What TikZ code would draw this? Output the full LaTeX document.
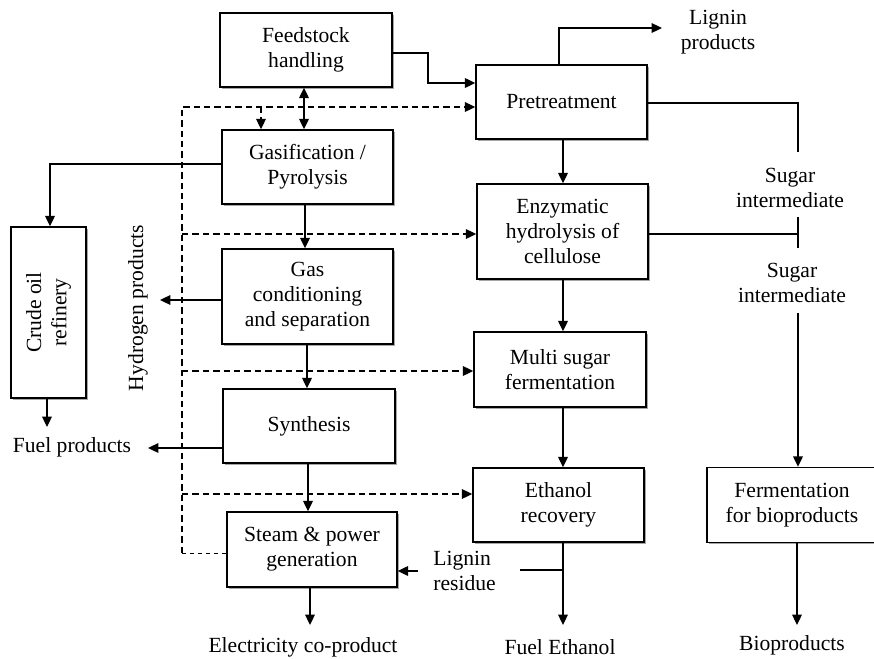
\documentclass[tikz,border=0pt]{standalone}
\usepackage{fontspec}
\setmainfont{Liberation Serif}
\usetikzlibrary{arrows.meta,shadows}
\tikzset{
  box/.style={draw, line width=0.7pt, fill=white, align=center, inner sep=0pt,
    drop shadow={shadow xshift=0.9pt, shadow yshift=-0.9pt, fill=black!35, opacity=1}},
  lbl/.style={align=center, inner sep=0pt},
  arr/.style={-{Triangle[length=5.2pt,width=4.8pt]}, line width=0.8pt},
  plain/.style={line width=0.8pt},
  dsh/.style={line width=0.7pt, dash pattern=on 3.2pt off 2pt},
  dsharr/.style={dsh, -{Triangle[length=5.2pt,width=4.8pt]}},
  dshthin/.style={line width=0.5pt, dash pattern=on 2.4pt off 1.6pt},
  every node/.append style={font=\fontsize{10.8}{12.6}\selectfont}
}
\begin{document}
\begin{tikzpicture}[x=0.5pt,y=-0.5pt]
\useasboundingbox (0,0) rectangle (874,659);

% process boxes
\node[box, minimum width=86pt, minimum height=37pt] (feed) at (306,50) {Feedstock\\handling};
\node[box, minimum width=85.5pt, minimum height=37pt] (gas) at (307.5,167) {Gasification /\\Pyrolysis};
\node[box, minimum width=85.5pt, minimum height=47.5pt] (cond) at (307.5,296.5) {Gas\\conditioning\\and separation};
\node[box, minimum width=86pt, minimum height=37pt] (syn) at (309,426) {Synthesis};
\node[box, minimum width=85pt, minimum height=37.5pt] (steam) at (312,549.5) {Steam \& power\\generation};
\node[box, minimum width=85.5pt, minimum height=37pt] (pre) at (561.5,102) {Pretreatment};
\node[box, minimum width=85.5pt, minimum height=47.5pt] (enz) at (562.5,231.5) {Enzymatic\\hydrolysis of\\cellulose};
\node[box, minimum width=86pt, minimum height=37.5pt] (multi) at (560,369.5) {Multi sugar\\fermentation};
\node[box, minimum width=85.5pt, minimum height=37pt] (eth) at (558.5,505) {Ethanol\\recovery};
\node[box, minimum width=88pt, minimum height=37.5pt] (ferm) at (795,505) {\hspace*{-3pt}Fermentation\\\hspace*{-3pt}for bioproducts};
\node[box, minimum width=37.5pt, minimum height=85.5pt] (crude) at (48.5,312.5) {};
\node[lbl, rotate=90] (crudetxt) at (crude) {Crude oil\\refinery};

% labels
\node[lbl] (lig) at (718,32) {Lignin\\products};
\node[lbl] (sug1) at (790,188) {Sugar\\intermediate};
\node[lbl] (sug2) at (792,283) {Sugar\\intermediate};
\node[lbl, rotate=90] (hyd) at (138,308) {Hydrogen products};
\node[lbl] (fuelp) at (72,447) {Fuel products};
\node[lbl, align=left, anchor=west] (ligres) at (433,571) {Lignin\\residue};
\node[lbl] (elec) at (303,647) {Electricity co-product};
\node[lbl] (fueleth) at (560,647) {Fuel Ethanol};
\node[lbl] (bio) at (792,645) {Bioproducts};

% free ends
\coordinate (hydend) at (160,300);
\coordinate (fuelend) at (148,448);
\coordinate (crudeend) at (47,427);
\coordinate (elecend) at (310,625);
\coordinate (ethend) at (563,625);
\coordinate (bioend) at (797,625);
\coordinate (ligend) at (662,28);
\coordinate (ligresstart) at (418,571);
\coordinate (ligresjoin) at (563,570);
\coordinate (sugtop) at (798,152);
\coordinate (sugtick1) at (798,217);
\coordinate (sugtick2) at (798,248);
\coordinate (sugbot) at (798,313);

% solid connectors
\draw[arr] (feed.east |- 0,53) -- (428,53) -- (428,83) -- (pre.west |- 0,83);
\draw[{Triangle[length=5.2pt,width=4.8pt]}-{Triangle[length=5.2pt,width=4.8pt]}, line width=0.8pt]
  (304,0 |- feed.south) -- (304,0 |- gas.north);
\draw[arr] (gas.west |- 0,164) -- (50,164) -- (50,0 |- crude.north);
\draw[arr] (305,0 |- gas.south) -- (305,0 |- cond.north);
\draw[arr] (cond.west |- 0,300) -- (hydend);
\draw[arr] (307,0 |- cond.south) -- (307,0 |- syn.north);
\draw[arr] (syn.west |- 0,448) -- (fuelend);
\draw[arr] (47,0 |- crude.south) -- (crudeend);
\draw[arr] (308,0 |- syn.south) -- (308,0 |- steam.north);
\draw[arr] (310,0 |- steam.south) -- (elecend);
\draw[arr] (ligresstart) -- (steam.east |- ligresstart);
\draw[plain] (520,570) -- (ligresjoin);
\draw[arr] (563,0 |- eth.south) -- (ethend);
\draw[arr] (559,0 |- pre.north) -- (559,28) -- (ligend);
\draw[arr] (563,0 |- pre.south) -- (563,0 |- enz.north);
\draw[arr] (563,0 |- enz.south) -- (563,0 |- multi.north);
\draw[arr] (563,0 |- multi.south) -- (563,0 |- eth.north);
\draw[plain] (pre.east |- 0,103) -- (798,103) -- (sugtop);
\draw[plain] (enz.east |- 0,234) -- (798,234);
\draw[plain] (sugtick1) -- (sugtick2);
\draw[arr] (sugbot) -- (798,0 |- ferm.north);
\draw[arr] (797,0 |- ferm.south) -- (bioend);

% dashed connectors
\draw[dshthin] (steam.west |- 0,553) -- (182,553);
\draw[dsharr] (182,553) -- (182,107) -- (pre.west |- 0,107);
\draw[dsharr] (261,107) -- (261,0 |- gas.north);
\draw[dsharr] (182,234) -- (enz.west |- 0,234);
\draw[dsharr] (182,371) -- (multi.west |- 0,371);
\draw[dsharr] (182,494) -- (eth.west |- 0,494);
\end{tikzpicture}
\end{document}
